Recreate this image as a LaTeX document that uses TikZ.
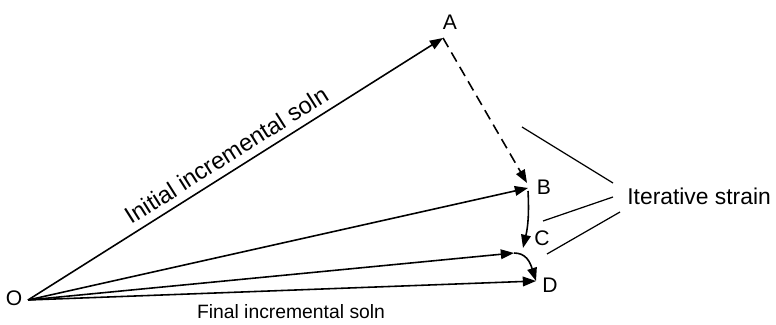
\documentclass[tikz,border=0pt]{standalone}
\usepackage{fontspec}
\setmainfont{Liberation Sans}
\usetikzlibrary{arrows.meta}

\tikzset{
  vec/.style={line width=0.9pt, -{Triangle[length=7.5pt,width=5.5pt]}},
  lead/.style={line width=0.7pt},
  pt/.style={font=\fontsize{12}{14}\selectfont, inner sep=0pt},
  caption/.style={inner sep=0pt}
}

\begin{document}
\begin{tikzpicture}[x=0.02cm, y=-0.02cm]
        \useasboundingbox (0,0) rectangle (776,324);

        % tips of the vectors
        \coordinate (O) at (28,300);
        \coordinate (A) at (443,38);
        \coordinate (B) at (528,188);
        \coordinate (Bd) at (527,183);
        \coordinate (Bs) at (528,191);
        \coordinate (C) at (523,248);
        \coordinate (E) at (514,253);
        \coordinate (D) at (536,281);

        \node[pt] (lO) at (14,298) {O};
        \node[pt] (lA) at (450,22) {A};
        \node[pt] (lB) at (544,187) {B};
        \node[pt] (lC) at (542,238) {C};
        \node[pt] (lD) at (550,285) {D};

        \draw[vec] (O) -- (A)
            node[caption, midway, above=4pt, sloped, font=\fontsize{13.5}{15}\selectfont] (init) {Initial incremental soln};
        \draw[vec, dash pattern=on 6pt off 3.5pt] (A) -- (Bd);
        \draw[vec] (O) -- (B);
        \draw[vec] (Bs) to[bend left=8] (C);
        \draw[vec] (O) -- (E);
        \draw[vec] (E) .. controls (526,253) and (530,262) .. (D);
        \draw[vec] (O) -- (D);

        \node[caption, font=\fontsize{11}{13}\selectfont] (final) at (291,312) {Final incremental soln};

        % leaders to the label
        \node[caption, anchor=west, font=\fontsize{13}{15}\selectfont] (iter) at (627,196) {Iterative strain};
        \coordinate (s1) at (522,127);
        \coordinate (s2) at (543,221);
        \coordinate (s3) at (547,254);
        \coordinate (t1) at (613,183);
        \coordinate (t2) at (613,197);
        \coordinate (t3) at (620,212);
        \draw[lead] (s1) -- (t1);
        \draw[lead] (s2) -- (t2);
        \draw[lead] (s3) -- (t3);
\end{tikzpicture}
\end{document}
